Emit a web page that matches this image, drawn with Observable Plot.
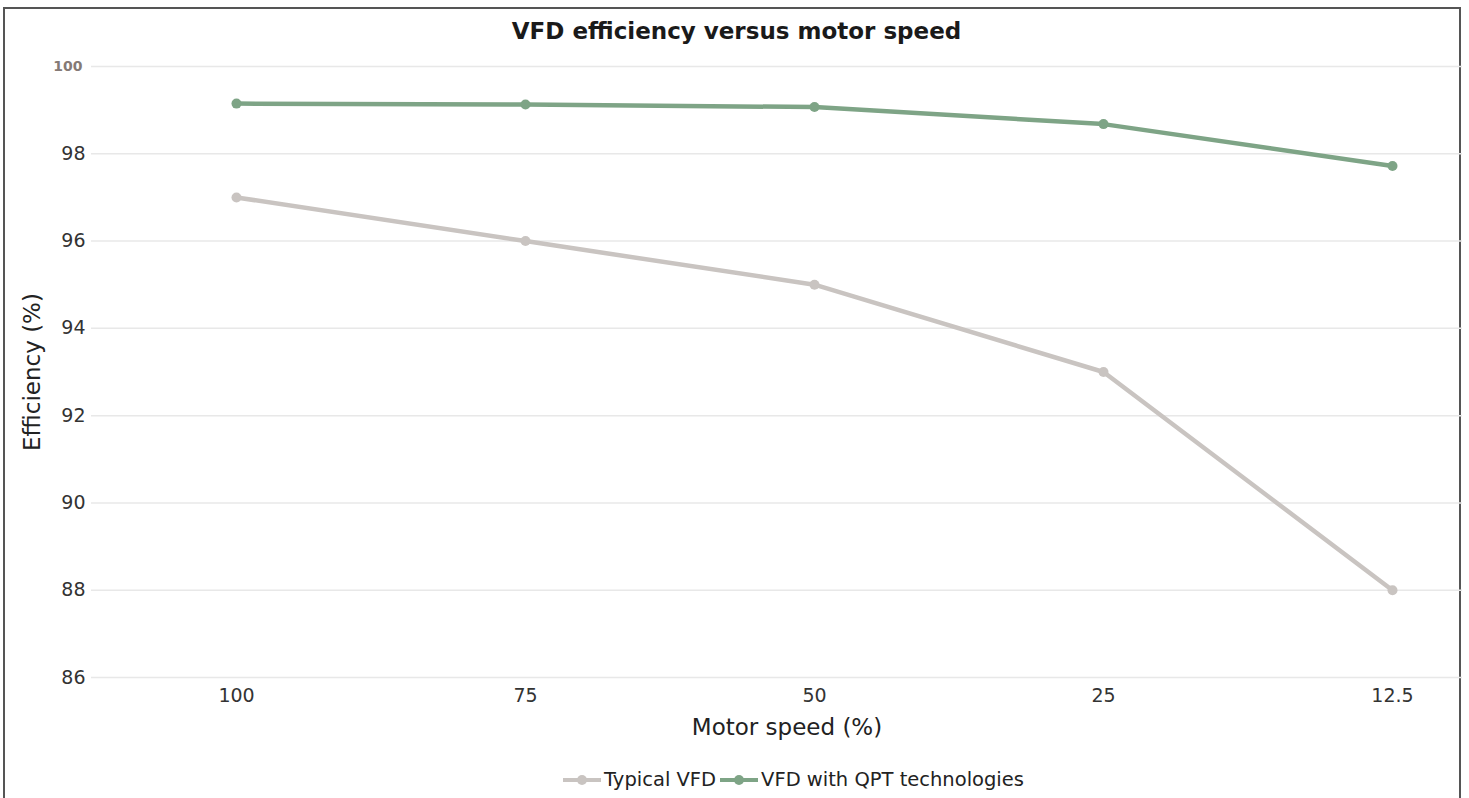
<!DOCTYPE html>
<html>
<head>
<meta charset="utf-8">
<script src="https://cdn.jsdelivr.net/npm/d3@7"></script>
<script src="https://cdn.jsdelivr.net/npm/@observablehq/plot@0.6"></script>
<style>
  html, body { margin: 0; padding: 0; background: #fff; overflow: hidden; }
  #wrap { position: relative; width: 1469px; height: 798px; font-family: "DejaVu Sans", Verdana, sans-serif; }
  #frame { position: absolute; left: 3px; top: 7px; width: 1458px; height: 800px; border: 2px solid #555; box-sizing: border-box; }
  #title { position: absolute; left: 0; width: 1469px; top: 18px; text-align: center; font-weight: bold; font-size: 23px; color: #1a1a1a; padding-left: 4px; box-sizing: border-box; }
  #chart { position: absolute; left: 0; top: 0; }
  #legend { position: absolute; top: 768px; left: 563px; display: flex; font-size: 19.5px; color: #222; align-items: center; }
  #legend .item { display: flex; align-items: center; }
  #legend svg { margin-right: 3px; }
</style>
</head>
<body>
<div id="wrap">
  <div id="frame"></div>
  <div id="chart"></div>
  <div id="title">VFD efficiency versus motor speed</div>
  <div id="legend"></div>
</div>
<script>
const speeds = ["100", "75", "50", "25", "12.5"];
const typicalVFD = [97, 96, 95, 93, 88];
const qptVFD = [99.15, 99.13, 99.07, 98.68, 97.72];
const seriesNames = ["Typical VFD", "VFD with QPT technologies"];
const seriesColors = ["#c9c4c1", "#7ea486"];
const yTicks = [86, 88, 90, 92, 94, 96, 98];
const yTopTick = [100];

const rows = [];
speeds.forEach((s, i) => {
  rows.push({speed: s, value: typicalVFD[i], series: seriesNames[0]});
  rows.push({speed: s, value: qptVFD[i], series: seriesNames[1]});
});

const chart = Plot.plot({
  width: 1469,
  height: 760,
  marginTop: 66,
  marginBottom: 83,
  marginLeft: 91,
  marginRight: 7,
  style: {fontFamily: '"DejaVu Sans", Verdana, sans-serif', background: "transparent"},
  x: {type: "point", domain: speeds, range: [234, 1393], padding: 0, align: 0.5},
  y: {domain: [86, 100], range: [677, 66]},
  color: {domain: seriesNames, range: seriesColors},
  marks: [
    Plot.ruleY(yTicks.concat(yTopTick), {stroke: "#e8e8e8", strokeWidth: 1.5}),
    Plot.axisY({ticks: yTicks, tickSize: 0, tickPadding: 6, fontSize: 19, fill: "#333", label: null}),
    Plot.axisY({ticks: yTopTick, tickSize: 0, tickPadding: 9, fontSize: 14, fontWeight: "bold", fill: "#857a76", label: null}),
    Plot.text(["Efficiency (%)"], {frameAnchor: "left", dx: -59, rotate: -90, fontSize: 23, fill: "#222", textAnchor: "middle"}),
    Plot.axisX({tickSize: 0, tickPadding: 11, fontSize: 19, fill: "#333", label: null}),
    Plot.text(["Motor speed (%)"], {frameAnchor: "bottom", dy: 57, dx: 10, fontSize: 23, fill: "#222"}),
    Plot.line(rows, {x: "speed", y: "value", z: "series", stroke: "series", strokeWidth: 4.5}),
    Plot.dot(rows, {x: "speed", y: "value", fill: "series", r: 5})
  ]
});
document.getElementById("chart").appendChild(chart);

const legend = document.getElementById("legend");
seriesNames.forEach((name, i) => {
  const item = document.createElement("div");
  item.className = "item";
  item.innerHTML = `<svg width="38" height="12"><line x1="0" y1="6" x2="38" y2="6" stroke="${seriesColors[i]}" stroke-width="4"/><circle cx="19" cy="6" r="5" fill="${seriesColors[i]}"/></svg><span>${name}</span>`;
  if (i === 0) item.style.marginRight = "4px";
  legend.appendChild(item);
});
</script>
</body>
</html>
